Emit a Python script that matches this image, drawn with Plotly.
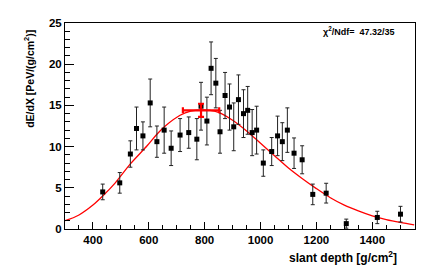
import plotly.graph_objects as go

# measured points: slant depth [g/cm^2], dE/dX [PeV/(g/cm^2)], error
depth = [435, 496, 534, 556, 579, 605, 629, 655, 680, 712, 743, 772, 787, 808,
         823, 840, 855, 873, 889, 904, 921, 939, 954, 970, 986, 1010, 1040,
         1061, 1078, 1096, 1120, 1149, 1187, 1235, 1307, 1418, 1501]
dedx = [4.5, 5.6, 9.1, 12.2, 11.3, 15.3, 10.6, 12.0, 9.8, 11.4, 11.7, 10.9, 14.9,
        13.1, 19.5, 17.7, 11.8, 16.2, 14.8, 12.4, 15.7, 14.0, 14.4, 11.7, 12.0,
        8.0, 9.4, 11.3, 10.6, 12.0, 9.2, 8.4, 4.2, 4.35, 0.65, 1.4, 1.8]
err = [0.95, 1.25, 1.6, 2.6, 1.7, 2.9, 1.9, 2.8, 2.1, 2.0, 1.9, 2.5, 2.9, 2.9,
       3.2, 3.0, 2.6, 2.8, 2.8, 2.9, 3.0, 2.9, 2.9, 2.8, 2.9, 1.6, 1.7, 2.4,
       2.3, 2.7, 1.85, 1.7, 1.25, 1.2, 0.55, 0.75, 0.95]

# fit curve
fit_x = [300, 350, 400, 435, 480, 534, 594, 629, 659, 712, 750, 787, 820, 849,
         900, 950, 1000, 1050, 1100, 1150, 1200, 1250, 1300, 1350, 1400, 1450,
         1500, 1550]
fit_y = [1.0, 1.7, 2.9, 4.0, 5.6, 7.9, 10.1, 11.5, 12.5, 13.8, 14.3, 14.45, 14.4,
         14.15, 13.2, 11.9, 10.4, 8.9, 7.4, 6.1, 4.9, 3.8, 2.9, 2.2, 1.6, 1.15,
         0.8, 0.5]

# fitted maximum
xmax = [787]
xmax_err = [65]
ymax = [14.4]
ymax_err = [0.8]

x_ticks = [400, 600, 800, 1000, 1200, 1400]
y_ticks = [0, 5, 10, 15, 20, 25]

fig = go.Figure()
fig.add_trace(go.Scatter(
    x=fit_x, y=fit_y, mode="lines", line=dict(color="#ff0000", width=1.3, shape="spline"),
    hoverinfo="skip"))
fig.add_trace(go.Scatter(
    x=depth, y=dedx, mode="markers",
    marker=dict(symbol="square", size=5, color="black"),
    error_y=dict(type="data", array=err, color="#222222", thickness=1, width=2)))
fig.add_trace(go.Scatter(
    x=xmax, y=ymax, mode="markers",
    marker=dict(symbol="square", size=2, color="#ff0000"),
    error_x=dict(type="data", array=xmax_err, color="#ff0000", thickness=2.2, width=3),
    error_y=dict(type="data", array=ymax_err, color="#ff0000", thickness=2.2, width=3)))

# the page body has an 8px margin: figure is 428x260 placed at (8, 8)
PL, PT = 65, 17          # plot-area left / top in page pixels
PW, PH = 350, 212        # plot-area size

font_b = "Liberation Sans"
fig.update_layout(
    width=428, height=260,
    margin=dict(l=PL - 8, r=21, t=PT - 8, b=39),
    paper_bgcolor="white", plot_bgcolor="white",
    showlegend=False,
    font=dict(family=font_b, color="black"),
    xaxis=dict(range=[300, 1553], tickvals=x_ticks, ticktext=[f"<b>{v}</b>" for v in x_ticks],
               ticks="inside", ticklen=7, tickcolor="black", tickfont=dict(size=11.5),
               showline=True, linecolor="black", linewidth=1, mirror=True,
               showgrid=False, zeroline=False,
               minor=dict(dtick=50, tick0=0, ticks="inside", ticklen=4, tickcolor="black")),
    yaxis=dict(range=[0, 25], tickvals=y_ticks, ticktext=[f"<b>{v}</b>" for v in y_ticks],
               ticks="inside", ticklen=9, tickcolor="black", tickfont=dict(size=11.5),
               showline=True, linecolor="black", linewidth=1, mirror=True,
               showgrid=False, zeroline=False,
               minor=dict(dtick=1, ticks="inside", ticklen=5, tickcolor="black")),
    annotations=[
        dict(text="<b>slant depth [g/cm<sup>2</sup>]</b>", xref="paper", yref="paper",
             x=(399 - PL) / PW, y=(PT + PH - 258) / PH, xanchor="right", yanchor="middle",
             showarrow=False, font=dict(size=12)),
        dict(text="<b>dE/dX [PeV/(g/cm<sup>2</sup>)]</b>", xref="paper", yref="paper",
             x=(29 - PL) / PW, y=1 - (22 - PT) / PH, xanchor="center", yanchor="top",
             textangle=-90, showarrow=False, font=dict(size=10.5)),
        dict(text="<b>χ<sup>2</sup>/Ndf=  47.32/35</b>", xref="paper", yref="paper",
             x=(397 - PL) / PW, y=1 - (25 - PT) / PH, xanchor="right", yanchor="middle",
             showarrow=False, font=dict(size=9)),
    ],
)
fig.write_html("out.html")
